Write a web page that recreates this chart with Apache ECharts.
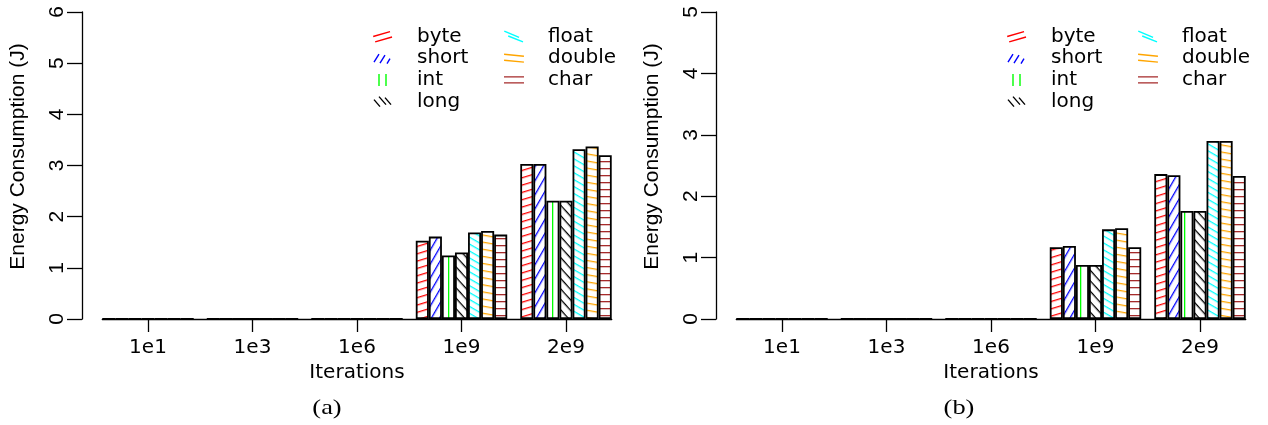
<!DOCTYPE html>
<html>
<head>
<meta charset="utf-8">
<script src="https://cdn.jsdelivr.net/npm/echarts@6/dist/echarts.min.js"></script>
<style>
  html, body { margin: 0; padding: 0; background: #fff; }
  #chart { width: 1268px; height: 425px; }
</style>
</head>
<body>
<div id="chart"></div>
<script>
// Iteration counts on the x axis and the Java primitive types compared
const iterations = ['1e1', '1e3', '1e6', '1e9', '2e9'];
const dataTypes = ['byte', 'short', 'int', 'long', 'float', 'double', 'char'];

// Panel (a): energy consumption in joules
const byteA   = [0, 0, 0, 1.53, 3.03];
const shortA  = [0, 0, 0, 1.61, 3.03];
const intA    = [0, 0, 0, 1.24, 2.31];
const longA   = [0, 0, 0, 1.30, 2.31];
const floatA  = [0, 0, 0, 1.69, 3.32];
const doubleA = [0, 0, 0, 1.72, 3.37];
const charA   = [0, 0, 0, 1.65, 3.20];

// Panel (b): energy consumption in joules
const byteB   = [0, 0, 0, 1.17, 2.36];
const shortB  = [0, 0, 0, 1.19, 2.34];
const intB    = [0, 0, 0, 0.88, 1.76];
const longB   = [0, 0, 0, 0.88, 1.76];
const floatB  = [0, 0, 0, 1.46, 2.90];
const doubleB = [0, 0, 0, 1.48, 2.90];
const charB   = [0, 0, 0, 1.17, 2.33];

const yMaxA = 6;
const yMaxB = 5;

const panelA = [byteA, shortA, intA, longA, floatA, doubleA, charA];
const panelB = [byteB, shortB, intB, longB, floatB, doubleB, charB];

// Hatching style for each type: line colour, visual angle (deg), spacing (px),
// and the strokes of its legend swatch (in a 20x14 box)
const hatchStyle = {
  byte:   { color: '#ff0000', angle: 17,  gap: 7, icon: [[0, 7, 17, 2], [2, 12.5, 19, 7.5]] },
  short:  { color: '#0000ff', angle: 60,  gap: 7, icon: [[1, 11, 6, 3], [7, 12, 12, 4], [14, 12.5, 17, 7.5]] },
  int:    { color: '#00ff00', angle: 90,  gap: 8, icon: [[6, 1, 6, 13], [13, 1, 13, 13]] },
  long:   { color: '#000000', angle: -48, gap: 7, icon: [[1, 5, 7, 12], [6, 2, 13, 10], [12, 3, 18, 10]] },
  float:  { color: '#00ffff', angle: -30, gap: 6, icon: [[0, 1.5, 15, 8], [4, 6.5, 19, 12.5]] },
  double: { color: '#ffa500', angle: -10, gap: 7, icon: [[0, 3, 20, 5], [0, 9, 20, 11]] },
  char:   { color: '#a52a2a', angle: 0,   gap: 7, icon: [[0, 4, 20, 4], [0, 10, 20, 10]] }
};

function hatchPattern(h) {
  const tile = document.createElement('canvas');
  tile.width = 8;
  tile.height = h.gap;
  const g = tile.getContext('2d');
  g.fillStyle = '#ffffff';
  g.fillRect(0, 0, tile.width, tile.height);
  g.fillStyle = h.color;
  g.fillRect(0, 0, tile.width, 1.3);
  return { image: tile, repeat: 'repeat', rotation: -h.angle * Math.PI / 180 };
}

// Thin filled strip along a segment, for the legend swatches
function strip(x1, y1, x2, y2, t) {
  const dx = x2 - x1, dy = y2 - y1, L = Math.hypot(dx, dy);
  const nx = -dy / L * t / 2, ny = dx / L * t / 2;
  return 'M' + (x1 + nx) + ' ' + (y1 + ny) + 'L' + (x2 + nx) + ' ' + (y2 + ny) +
         'L' + (x2 - nx) + ' ' + (y2 - ny) + 'L' + (x1 - nx) + ' ' + (y1 - ny) + 'Z';
}
function legendIcon(h) {
  return 'path://M0 0M20 14' + h.icon.map(s => strip(s[0], s[1], s[2], s[3], 1.4)).join('');
}

const SANS_H = 'DejaVu Sans';
const SANS_V = 'Liberation Sans';
const PANEL_W = 634;
// each group of 7 bars fills 7/8 of its slot; the x range ends at the outer bar edges
const HALF_GROUP = 0.4375;
const SLOT_PX = 104.5;
const PLOT_LEFT = 148 - HALF_GROUP * SLOT_PX;

function legendBlock(names, left) {
  return {
    orient: 'vertical',
    left: left,
    top: 26.5,
    padding: 0,
    itemWidth: 20,
    itemHeight: 14,
    itemGap: 1.7,
    selectedMode: false,
    itemStyle: { borderWidth: 0 },
    textStyle: { fontFamily: SANS_H, fontSize: 20, color: '#000', lineHeight: 20, padding: [0, 0, 0, 19] },
    data: names.map(n => ({
      name: n,
      icon: legendIcon(hatchStyle[n]),
      itemStyle: { color: hatchStyle[n].color, borderWidth: 0 }
    }))
  };
}

const grids = [0, 1].map(p => ({
  left: PLOT_LEFT + p * PANEL_W,
  width: (iterations.length - 1 + 2 * HALF_GROUP) * SLOT_PX,
  top: 12,
  height: 307
}));

const groupIndex = iterations.map((_, i) => i);

const xAxes = [0, 1].map(p => ({
  gridIndex: p,
  type: 'value',
  min: -HALF_GROUP,
  max: iterations.length - 1 + HALF_GROUP,
  axisLine: { show: true, onZero: false, lineStyle: { color: '#000', width: 1.3 } },
  axisTick: { show: true, customValues: groupIndex, length: 13, lineStyle: { color: '#000', width: 1.3 } },
  axisLabel: {
    customValues: groupIndex,
    formatter: v => iterations[Math.round(v)],
    margin: 19, fontFamily: SANS_H, fontSize: 20, color: '#000'
  },
  splitLine: { show: false },
  name: 'Iterations',
  nameLocation: 'middle',
  nameGap: 41,
  nameTextStyle: { fontFamily: SANS_H, fontSize: 20, color: '#000' }
}));

const yAxes = [yMaxA, yMaxB].map((mx, p) => ({
  gridIndex: p,
  type: 'value',
  min: 0,
  max: mx,
  interval: 1,
  offset: PLOT_LEFT - 82,
  axisLine: { show: true, onZero: false, lineStyle: { color: '#000', width: 1.3 } },
  axisTick: { show: true, length: 15, lineStyle: { color: '#000', width: 1.3 } },
  splitLine: { show: false },
  axisLabel: { rotate: 90, margin: 14, fontFamily: SANS_V, fontSize: 21, color: '#000' },
  name: 'Energy Consumption (J)',
  nameLocation: 'middle',
  nameGap: 53,
  nameTextStyle: { fontFamily: SANS_V, fontSize: 21, color: '#000', padding: [0, 0, 0, 18] }
}));

const series = [];
[panelA, panelB].forEach((panel, p) => {
  panel.forEach((values, i) => {
    const name = dataTypes[i];
    series.push({
      type: 'bar',
      name: name,
      xAxisIndex: p,
      yAxisIndex: p,
      data: values.map((v, g) => [g, v]),
      barGap: '0%',
      barCategoryGap: '12.5%',
      itemStyle: { color: hatchPattern(hatchStyle[name]), borderColor: '#000', borderWidth: 1.8 },
      emphasis: { disabled: true }
    });
  });
});

const chart = echarts.init(document.getElementById('chart'), null, { renderer: 'canvas' });
chart.setOption({
  animation: false,
  backgroundColor: '#fff',
  grid: grids,
  xAxis: xAxes,
  yAxis: yAxes,
  legend: [
    legendBlock(dataTypes.slice(0, 4), 373),
    legendBlock(dataTypes.slice(4), 504),
    legendBlock(dataTypes.slice(0, 4), 373 + PANEL_W),
    legendBlock(dataTypes.slice(4), 504 + PANEL_W)
  ],
  graphic: ['(a)', '(b)'].map((t, p) => ({
    type: 'text',
    x: 327 + p * (PANEL_W - 2),
    y: 408,
    scaleX: 1.2,
    style: { text: t, font: '22px "Liberation Serif"', fill: '#000', textAlign: 'center', textVerticalAlign: 'middle' }
  })),
  series: series
});
</script>
</body>
</html>
